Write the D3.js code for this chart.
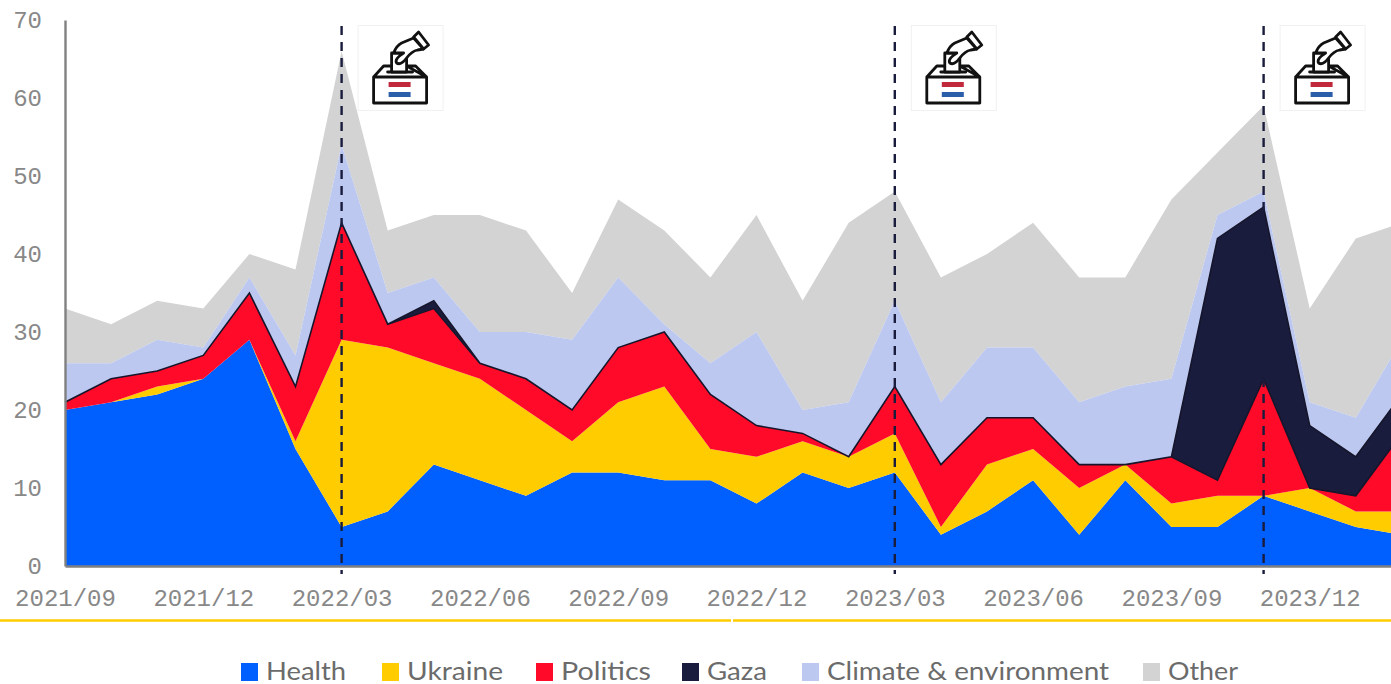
<!DOCTYPE html>
<html><head><meta charset="utf-8">
<script src="https://cdn.jsdelivr.net/npm/d3@7"></script>
<style>html,body{margin:0;padding:0;background:#fff;overflow:hidden}svg{display:block}</style>
</head><body><svg id="c" width="1391" height="684"></svg>
<script>
const months=["2021/09","2021/10","2021/11","2021/12","2022/01","2022/02","2022/03","2022/04","2022/05","2022/06","2022/07","2022/08","2022/09","2022/10","2022/11","2022/12","2023/01","2023/02","2023/03","2023/04","2023/05","2023/06","2023/07","2023/08","2023/09","2023/10","2023/11","2023/12","2024/01","2024/02"];
const tickMonths=["2021/09","2021/12","2022/03","2022/06","2022/09","2022/12","2023/03","2023/06","2023/09","2023/12"];
const yTicks=[0,10,20,30,40,50,60,70];
const electionMonths=["2022/03","2023/03","2023/11"];
const health=[20,21,22,24,29,15,5,7,13,11,9,12,12,11,11,8,12,10,12,4,7,11,4,11,5,5,9,7,5,4];
const ukraine=[0,0,1,0,0,1,24,21,13,13,11,4,9,12,4,6,4,4,5,1,6,4,6,2,3,4,0,3,2,3];
const politics=[1,3,2,3,6,7,15,3,7,2,4,4,7,7,7,4,1,0,6,8,6,4,3,0,6,2,15,0,2,10];
const gaza=[0,0,0,0,0,0,0,0,1,0,0,0,0,0,0,0,0,0,0,0,0,0,0,0,0,31,22,8,5,5];
const climate=[5,2,4,1,2,4,10,4,3,4,6,9,9,1,4,12,3,7,11,8,9,9,8,10,10,3,2,3,5,7];
const other=[7,5,5,5,3,11,12,8,8,15,13,6,10,12,11,15,14,23,14,16,12,16,16,14,23,8,11,12,23,15];
const seriesNames=["Health","Ukraine","Politics","Gaza","Climate & environment","Other"];
const seriesValues=[health,ukraine,politics,gaza,climate,other];
const seriesColors=["#0060ff","#ffcc00","#ff0a28","#1a1c3d","#bcc8f0","#d3d3d3"];

const svg=d3.select("#c");
const x=d3.scalePoint().domain(months).range([65,65+29*46.1]);
const y=d3.scaleLinear().domain([0,70]).range([566,20]);
const rows=months.map((m,i)=>{const r={month:m};seriesNames.forEach((n,k)=>r[n]=seriesValues[k][i]);return r;});
const stacked=d3.stack().keys(seriesNames)(rows);
const area=d3.area().x(d=>x(d.data.month)).y0(d=>y(d[0])).y1(d=>y(d[1]));

const order=[5,4,0,1,2,3];
svg.append("g").selectAll("path").data(order).join("path")
  .attr("d",k=>area(stacked[k])).attr("fill",k=>seriesColors[k])
  .attr("stroke",k=>k===3?"#15152b":"none").attr("stroke-width",k=>k===3?1.6:0)
  .attr("stroke-linejoin","miter");

const grey="#888888", mono="'Liberation Mono',monospace";
const gy=svg.append("g").attr("transform","translate(65,0)")
  .call(d3.axisLeft(y).tickValues(yTicks).tickSize(0).tickPadding(23));
gy.select(".domain").attr("stroke","#808080").attr("stroke-width",2.4);
gy.selectAll("text").attr("fill",grey).style("font-family",mono).style("font-size","24px");
const gx=svg.append("g").attr("transform","translate(0,566)")
  .call(d3.axisBottom(x).tickValues(tickMonths).tickSize(0).tickPadding(23));
gx.select(".domain").attr("stroke","#808080").attr("stroke-width",2.4);
gx.selectAll("text").attr("fill",grey).style("font-family",mono).style("font-size","24px");

svg.append("g").selectAll("line").data(electionMonths).join("line")
  .attr("x1",d=>x(d)).attr("x2",d=>x(d)).attr("y1",26).attr("y2",574)
  .attr("stroke","#1a1c3d").attr("stroke-width",2.4).attr("stroke-dasharray","9,7");

const icon=svg.append("g").selectAll("g").data(electionMonths).join("g")
  .attr("transform",d=>`translate(${x(d)+16},25)`);
icon.append("rect").attr("x",0.5).attr("y",0.5).attr("width",85).attr("height",85).attr("fill","#fff").attr("stroke","#f1f1f1");
const ink="#111";
const stroke=s=>s.attr("stroke",ink).attr("stroke-width",2.8).attr("stroke-linejoin","round").attr("stroke-linecap","round");
// lid and box
icon.append("path").attr("fill","none").call(stroke).attr("d","M16 52 L26 41 H34 M49 41 H58 L69 52 Z M16 52 H69 V78 H16 Z");
// ballot slot
icon.append("path").attr("fill","none").call(stroke).attr("d","M30 47 H55");
// ballot paper
icon.append("path").attr("fill","#fff").call(stroke).attr("d","M34 28 H49 V47 H34 Z");
// hand
icon.append("path").attr("fill","#fff").call(stroke)
  .attr("d","M56 13 L44 18 C40 20 38 23 36 28 H46 C41 31 37 35 39 38 C42 40 46 37 49 33 C52 29 55 26 60 25 L66 24 Z");
// cuff
icon.append("path").attr("fill","#fff").call(stroke).attr("d","M61 7 L71 20 L66 24 L56 12 Z");
// flag stripes
icon.append("rect").attr("x",31).attr("y",57).attr("width",22).attr("height",5).attr("fill","#c1283c");
icon.append("rect").attr("x",31).attr("y",67).attr("width",22).attr("height",5).attr("fill","#2a5ea8");

const rule=[[0,731],[733,1391]];
svg.append("g").selectAll("line").data(rule).join("line")
  .attr("x1",d=>d[0]).attr("x2",d=>d[1]).attr("y1",620.5).attr("y2",620.5)
  .attr("stroke","#ffcc00").attr("stroke-width",2.4);

const legendX=[241,382,536,682,802,1143];
const legendW=[80,96,90,60,282,70];
const leg=svg.append("g").selectAll("g").data(seriesNames).join("g")
  .attr("transform",(d,i)=>`translate(${legendX[i]},663)`);
leg.append("rect").attr("width",17).attr("height",18).attr("fill",(d,i)=>seriesColors[i]);
leg.append("text").text(d=>d).attr("x",25).attr("y",17)
  .attr("fill","#6b6b6b").style("font-family","Lato,'Open Sans',sans-serif").style("font-size","25px")
  .attr("textLength",(d,i)=>legendW[i]).attr("lengthAdjust","spacingAndGlyphs");
</script></body></html>
